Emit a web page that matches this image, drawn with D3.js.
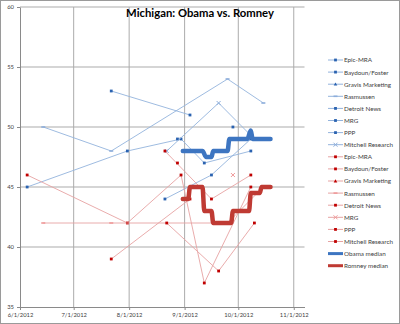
<!DOCTYPE html>
<html>
<head>
<meta charset="utf-8">
<script src="https://cdn.jsdelivr.net/npm/d3@7"></script>
<style>
body{margin:0;background:#fff;}
svg{display:block;font-family:Lato,"Liberation Sans",sans-serif;}
</style>
</head>
<body>
<script>
//poll data (Obama / Romney per pollster)
var pollsters = ["Epic-MRA","Baydoun/Foster","Gravis Marketing","Rasmussen","Detroit News","MRG","PPP","Mitchell Research"];

var epicDates = ["2012-06-05","2012-07-31","2012-08-30","2012-09-12","2012-10-08"];
var epicObama = [45,48,49,47,48];
var epicRomney = [46,42,46,37,45];

var baydounDates = ["2012-08-21","2012-09-16","2012-10-08"];
var baydounObama = [44,46,49];
var baydounRomney = [48,44,46];

//no gravis poll visible on the chart
var gravisDates = [];
var gravisObama = [];
var gravisRomney = [];

var rasDates = ["2012-06-14","2012-07-22","2012-09-25","2012-10-15"];
var rasObama = [50,48,54,52];
var rasRomney = [42,42,42,45];

var detroitDates = ["2012-08-28"];
var detroitObama = [49];
var detroitRomney = [47];

var mrgDates = ["2012-09-28"];
var mrgObama = [50];
var mrgRomney = [46];

var pppDates = ["2012-07-22","2012-09-04"];
var pppObama = [53,51];
var pppRomney = [39,44];

var mitchellDates = ["2012-08-22","2012-09-20","2012-10-10"];
var mitchellObama = [48,52,49];
var mitchellRomney = [42,38,42];

//running medians (break points)
var obamaMedDates = ["2012-08-31","2012-09-11","2012-09-13","2012-09-16","2012-09-17","2012-09-25","2012-09-26","2012-10-06","2012-10-08","2012-10-09","2012-10-19"];
var obamaMedVals = [48,48,47.5,47.5,48,48,49,49,49.7,49,49];
var romneyMedDates = ["2012-08-31","2012-09-03","2012-09-04","2012-09-11","2012-09-12","2012-09-16","2012-09-17","2012-09-27","2012-09-28","2012-10-07","2012-10-08","2012-10-13","2012-10-14","2012-10-19"];
var romneyMedVals = [44,44,45,45,43,43,42,42,43,43,44.5,44.5,45,45];

//axis ticks
var yTicks = [35,40,45,50,55,60];

(function(){
    var width = 400, height = 324;
    var parse = d3.timeParse("%Y-%m-%d");
    var fmt = d3.timeFormat("%-m/%-d/%Y");

    var svg = d3.select("body").append("svg")
        .attr("width", width)
        .attr("height", height);

    svg.append("rect")
        .attr("x",0.5).attr("y",0.5)
        .attr("width",width-1).attr("height",height-1)
        .attr("fill","#fff").attr("stroke","#9a9a9a");

    //scales
    var x = d3.scaleTime()
        .domain([parse("2012-06-01"), parse("2012-11-07")])
        .range([20, 304.5]);
    var y = d3.scaleLinear()
        .domain([35,60])
        .range([307,7]);

    var months = d3.timeMonth.range(parse("2012-06-01"), parse("2012-11-02"));

    //gridlines
    svg.append("g").selectAll("line")
        .data(yTicks.slice(1))
        .enter().append("line")
        .attr("x1", x.range()[0]).attr("x2", x.range()[1])
        .attr("y1", function(d){ return y(d); })
        .attr("y2", function(d){ return y(d); })
        .attr("stroke","#ababab");
    svg.append("g").selectAll("line")
        .data(months.slice(1))
        .enter().append("line")
        .attr("x1", function(d){ return x(d); })
        .attr("x2", function(d){ return x(d); })
        .attr("y1", y(60)).attr("y2", y(35))
        .attr("stroke","#ababab");

    //axes
    var yAxis = svg.append("g")
        .attr("transform","translate(" + x.range()[0] + ",0)")
        .call(d3.axisLeft(y).tickValues(yTicks).tickSize(3).tickSizeOuter(0).tickPadding(3));
    var xAxis = svg.append("g")
        .attr("transform","translate(0," + y(35) + ")")
        .call(d3.axisBottom(x).tickValues(months).tickFormat(fmt).tickSize(3).tickSizeOuter(0).tickPadding(3));
    [yAxis, xAxis].forEach(function(a){
        a.selectAll("path, line").attr("stroke","#8a8a8a");
        a.selectAll("text").attr("fill","#404040").attr("font-size",7)
            .attr("font-family","Lato,'Liberation Sans',sans-serif");
    });

    //scale label fonts to the widths in the picture
    function fitFont(sel, sample, target){
        var t = svg.append("text").attr("font-size",10).text(sample);
        var w = t.node().getComputedTextLength();
        t.remove();
        sel.attr("font-size", 10*target/w);
        return 10*target/w;
    }
    fitFont(xAxis.selectAll("text"), "10/1/2012", 29);
    fitFont(yAxis.selectAll("text"), "60", 6.8);

    //series table
    var blueLine = "#93b3dd", redLine = "#e6a3a3";
    var series = [
        {name:"Epic-MRA", dates:epicDates, o:epicObama, r:epicRomney, mb:"square", mr:"square"},
        {name:"Baydoun/Foster", dates:baydounDates, o:baydounObama, r:baydounRomney, mb:"square", mr:"square"},
        {name:"Gravis Marketing", dates:gravisDates, o:gravisObama, r:gravisRomney, mb:"tri", mr:"tri"},
        {name:"Rasmussen", dates:rasDates, o:rasObama, r:rasRomney, mb:"dash", mr:"dash"},
        {name:"Detroit News", dates:detroitDates, o:detroitObama, r:detroitRomney, mb:"square", mr:"square"},
        {name:"MRG", dates:mrgDates, o:mrgObama, r:mrgRomney, mb:"square", mr:"x"},
        {name:"PPP", dates:pppDates, o:pppObama, r:pppRomney, mb:"square", mr:"square"},
        {name:"Mitchell Research", dates:mitchellDates, o:mitchellObama, r:mitchellRomney, mb:"x", mr:"square"}
    ];

    function drawMarker(g, shape, cx, cy, dark, light){
        if (shape == "square"){
            g.append("rect").attr("x",cx-1.4).attr("y",cy-1.4)
                .attr("width",2.8).attr("height",2.8).attr("fill",dark);
        } else if (shape == "x"){
            g.append("path")
                .attr("d","M"+(cx-2)+","+(cy-2)+"L"+(cx+2)+","+(cy+2)+"M"+(cx-2)+","+(cy+2)+"L"+(cx+2)+","+(cy-2))
                .attr("stroke",light).attr("stroke-width",1).attr("fill","none");
        } else if (shape == "dash"){
            g.append("rect").attr("x",cx-2).attr("y",cy-0.8)
                .attr("width",4).attr("height",1.6).attr("fill",light);
        } else {
            g.append("path")
                .attr("d","M"+cx+","+(cy-1.8)+"L"+(cx+1.8)+","+(cy+1.4)+"L"+(cx-1.8)+","+(cy+1.4)+"Z")
                .attr("fill",dark);
        }
    }

    var line = d3.line()
        .x(function(d){ return x(d.date); })
        .y(function(d){ return y(d.val); });

    function drawSeries(s, key, lineColor, dark, light, shape){
        var pts = s.dates.map(function(d,i){ return {date:parse(d), val:s[key][i]}; });
        var g = svg.append("g").attr("class", key + " " + s.name);
        if (pts.length > 1){
            g.append("path").datum(pts)
                .attr("d", line)
                .attr("fill","none")
                .attr("stroke", lineColor)
                .attr("stroke-width",0.9);
        }
        pts.forEach(function(p){
            drawMarker(g, shape, x(p.date), y(p.val), dark, light);
        });
    }

    series.forEach(function(s){ drawSeries(s, "o", blueLine, "#2a62b0", "#8eaedb", s.mb); });
    series.forEach(function(s){ drawSeries(s, "r", redLine, "#c00000", "#ef9a9a", s.mr); });

    //medians
    var medLine = d3.line()
        .x(function(d){ return x(d.date); })
        .y(function(d){ return y(d.val); })
        .curve(d3.curveMonotoneX);
    function medPts(dates, vals){
        return dates.map(function(d,i){ return {date:parse(d), val:vals[i]}; });
    }
    var obamaColor = "#3d75c1", romneyColor = "#bf3a33";
    svg.append("path").datum(medPts(obamaMedDates, obamaMedVals))
        .attr("d", medLine).attr("fill","none")
        .attr("stroke", obamaColor).attr("stroke-width",4.5)
        .attr("stroke-linejoin","round").attr("stroke-linecap","round");
    svg.append("path").datum(medPts(romneyMedDates, romneyMedVals))
        .attr("d", medLine).attr("fill","none")
        .attr("stroke", romneyColor).attr("stroke-width",4.5)
        .attr("stroke-linejoin","round").attr("stroke-linecap","round");

    //title
    var title = svg.append("text")
        .attr("x",200).attr("y",17)
        .attr("text-anchor","middle")
        .attr("font-weight","bold")
        .attr("fill","#000")
        .text("Michigan: Obama vs. Romney");
    var tt = title.attr("font-size",10).node().getComputedTextLength();
    title.attr("font-size", 10*148/tt);

    //legend
    var legendItems = [];
    series.forEach(function(s){ legendItems.push({name:s.name, color:blueLine, dark:"#2a62b0", light:"#8eaedb", shape:s.mb, w:1}); });
    series.forEach(function(s){ legendItems.push({name:s.name, color:redLine, dark:"#c00000", light:"#ef9a9a", shape:s.mr, w:1}); });
    legendItems.push({name:"Obama median", color:obamaColor, w:3});
    legendItems.push({name:"Romney median", color:romneyColor, w:3});

    var legend = svg.append("g").attr("transform","translate(328,60)");
    var rowH = 12.1;
    var legendTexts = [];
    legendItems.forEach(function(it,i){
        var g = legend.append("g").attr("transform","translate(0," + (i*rowH) + ")");
        g.append("line").attr("x1",0).attr("x2",15).attr("y1",0).attr("y2",0)
            .attr("stroke",it.color).attr("stroke-width",it.w);
        if (it.shape) drawMarker(g, it.shape, 7.5, 0, it.dark, it.light);
        legendTexts.push(g.append("text").attr("x",16).attr("y",2.4)
            .attr("fill","#404040").text(it.name).node());
    });
    fitFont(d3.selectAll(legendTexts), "Mitchell Research", 49);
})();
</script>
</body>
</html>
